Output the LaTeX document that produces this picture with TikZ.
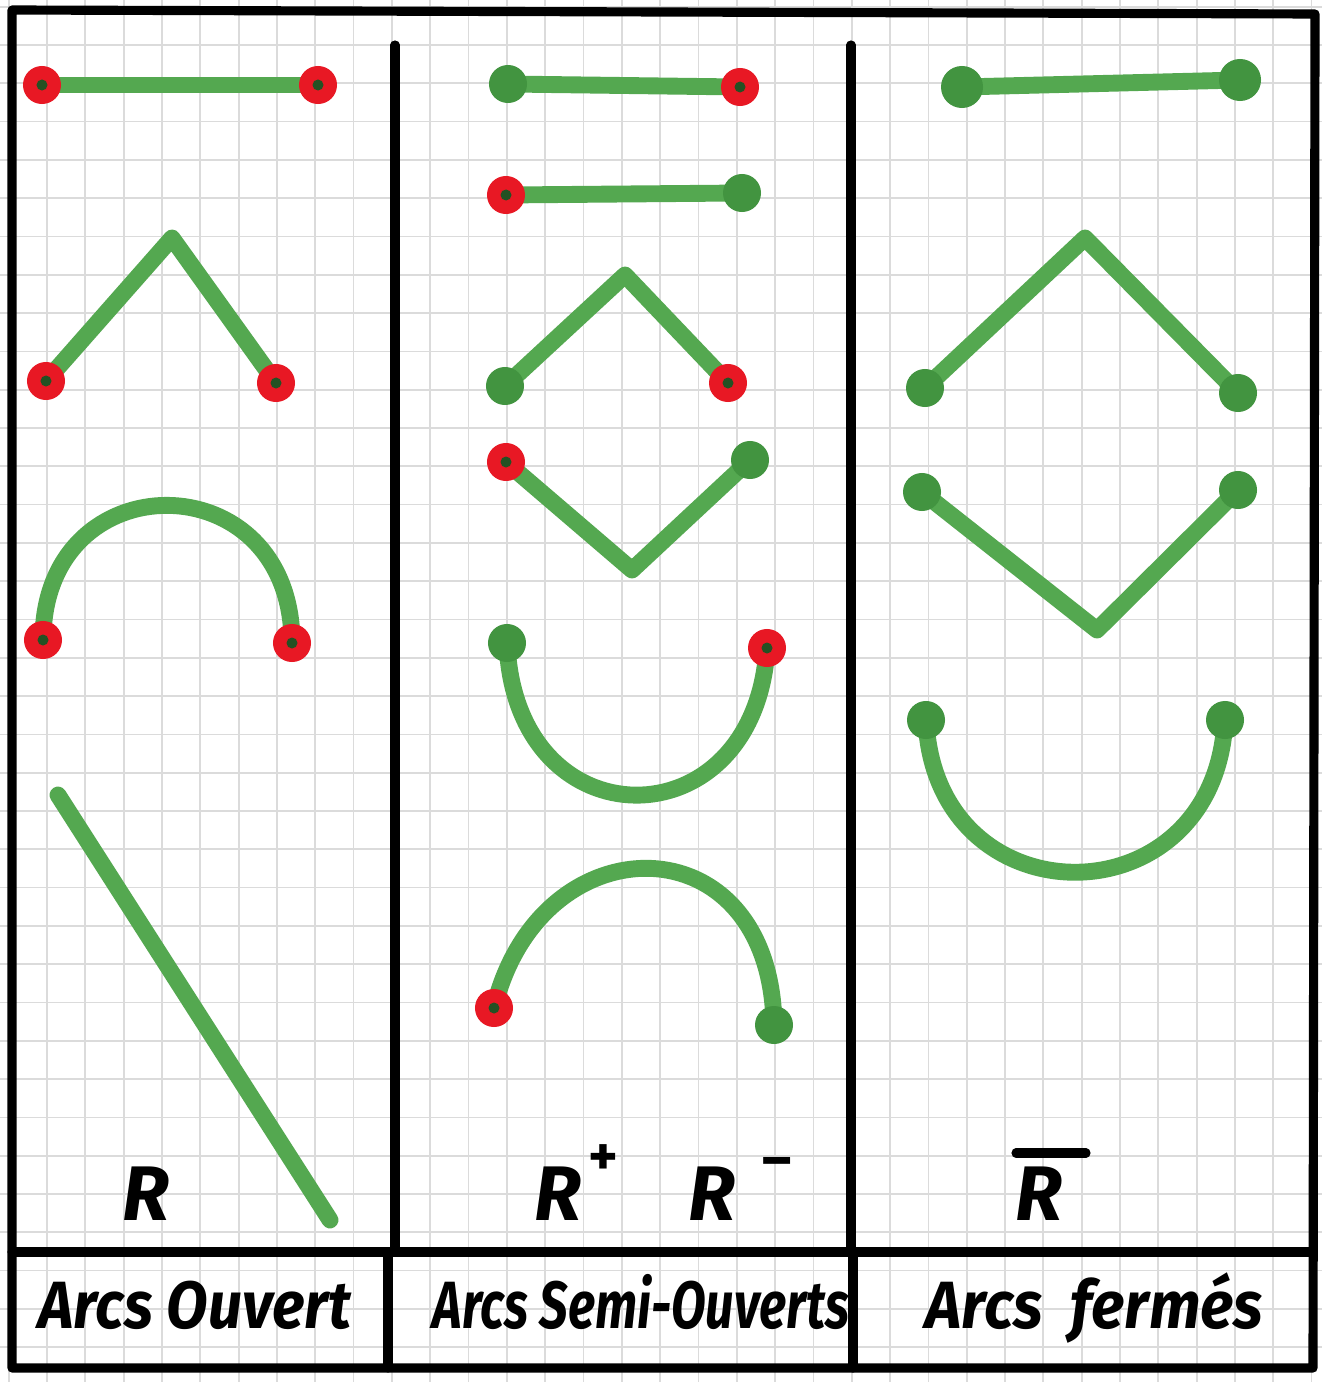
\documentclass[tikz,border=0pt]{standalone}
\usepackage{fontspec}
\usepackage{graphicx}
\newfontfamily\hand{Fira Sans}
\definecolor{mk}{RGB}{84,168,80}
\definecolor{mkd}{RGB}{66,148,64}
\definecolor{rd}{RGB}{232,24,36}
\begin{document}
\begin{tikzpicture}[x=0.01cm,y=-0.01cm,
  gridl/.style={draw=black!14,line width=0.5pt},
  frame/.style={line width=2.6pt,line cap=round,line join=round},
  arcl/.style={draw=mk,line width=4.8pt,line cap=round,line join=round},
  gdot/.style={circle,fill=mkd,inner sep=0pt,minimum size=0.38cm},
  rdot/.style={circle,fill=rd,inner sep=0pt,minimum size=0.38cm,
     path picture={\fill[black!45!mkd] (path picture bounding box.center) circle (0.055cm);}},
  lab/.style={font={\hand\fontsize{19}{22}\selectfont\bfseries\itshape},inner sep=0pt,anchor=base west},
  sym/.style={font={\hand\fontsize{22}{26}\selectfont\bfseries\itshape},inner sep=0pt,anchor=base west},
  sup/.style={font={\hand\fontsize{16}{18}\selectfont\bfseries},inner sep=0pt}]
\useasboundingbox (0,0) rectangle (1322,1382);
\fill[white] (0,0) rectangle (1322,1382);
% grid paper
\foreach \i in {0,...,34} {\draw[gridl] ({8.7+38.32*\i},0) -- ({8.7+38.32*\i},1382);}
\foreach \j in {0,...,36} {\draw[gridl] (0,{6.7+38.3*\j}) -- (1322,{6.7+38.3*\j});}
% frame
\draw[frame] (12,10) -- (1315,14) -- (1313,1368) -- (12,1368) -- cycle;
\draw[frame] (12,1252) -- (1313,1252);
\draw[frame] (395,45) -- (395,1252);
\draw[frame] (388,1252) -- (388,1368);
\draw[frame] (851,45) -- (851,1252);
\draw[frame] (853,1252) -- (853,1368);
% ---------- column 1 : open arcs
\coordinate (a1) at (42,85); \coordinate (b1) at (318,85);
\draw[arcl] (a1) -- (b1);
\coordinate (a2) at (46,381); \coordinate (m2) at (172,238); \coordinate (b2) at (276,383);
\draw[arcl] (a2) -- (m2) -- (b2);
\coordinate (a3) at (43,640); \coordinate (b3) at (292,643);
\draw[arcl] (a3) .. controls (43,460) and (292,460) .. (b3);
\coordinate (a4) at (58,795); \coordinate (b4) at (330,1220);
\draw[arcl] (a4) -- (b4);
\node[rdot] (da1) at (a1) {}; \node[rdot] (db1) at (b1) {};
\node[rdot] (da2) at (a2) {}; \node[rdot] (db2) at (b2) {};
\node[rdot] (da3) at (a3) {}; \node[rdot] (db3) at (b3) {};
% ---------- column 2 : half-open arcs
\coordinate (c1) at (508,84); \coordinate (e1) at (740,87);
\draw[arcl] (c1) -- (e1);
\coordinate (c2) at (506,195); \coordinate (e2) at (742,193);
\draw[arcl] (c2) -- (e2);
\coordinate (c3) at (505,386); \coordinate (n3) at (625,275); \coordinate (e3) at (728,383);
\draw[arcl] (c3) -- (n3) -- (e3);
\coordinate (c4) at (506,462); \coordinate (n4) at (632,570); \coordinate (e4) at (750,460);
\draw[arcl] (c4) -- (n4) -- (e4);
\coordinate (c5) at (507,643); \coordinate (e5) at (767,648);
\draw[arcl] (c5) .. controls (515,845) and (755,845) .. (e5);
\coordinate (c6) at (494,1008); \coordinate (e6) at (774,1025);
\draw[arcl] (c6) .. controls (540,819) and (771,819) .. (e6);
\node[gdot] (dc1) at (c1) {}; \node[rdot] (de1) at (e1) {};
\node[rdot] (dc2) at (c2) {}; \node[gdot] (de2) at (e2) {};
\node[gdot] (dc3) at (c3) {}; \node[rdot] (de3) at (e3) {};
\node[rdot] (dc4) at (c4) {}; \node[gdot] (de4) at (e4) {};
\node[gdot] (dc5) at (c5) {}; \node[rdot] (de5) at (e5) {};
\node[rdot] (dc6) at (c6) {}; \node[gdot] (de6) at (e6) {};
% ---------- column 3 : closed arcs
\coordinate (f1) at (962,87); \coordinate (g1) at (1240,80);
\draw[arcl] (f1) -- (g1);
\coordinate (f2) at (925,388); \coordinate (p2) at (1085,238); \coordinate (g2) at (1238,393);
\draw[arcl] (f2) -- (p2) -- (g2);
\coordinate (f3) at (922,492); \coordinate (p3) at (1097,630); \coordinate (g3) at (1238,490);
\draw[arcl] (f3) -- (p3) -- (g3);
\coordinate (f4) at (926,720); \coordinate (g4) at (1225,720);
\draw[arcl] (f4) .. controls (935,923) and (1215,923) .. (g4);
\node[gdot,minimum size=0.42cm] (df1) at (f1) {}; \node[gdot,minimum size=0.42cm] (dg1) at (g1) {};
\node[gdot] (df2) at (f2) {}; \node[gdot] (dg2) at (g2) {};
\node[gdot] (df3) at (f3) {}; \node[gdot] (dg3) at (g3) {};
\node[gdot] (df4) at (f4) {}; \node[gdot] (dg4) at (g4) {};
% ---------- symbols
\node[sym] (r1) at (122,1220) {R};
\node[sym] (r2) at (534,1220) {R};
\node[sup] (r2p) at (603,1160) {+};
\node[sym] (r3) at (688,1220) {R};
\node[sup] (r3m) at (777,1168) {\textendash};
\node[sym] (r4) at (1015,1220) {R};
\draw[line width=2.6pt,line cap=round] (1016,1153) -- (1086,1153);
% ---------- labels
\node[lab] (l1) at (38,1328) {\resizebox{3.12cm}{\height}{Arcs Ouvert}};
\node[lab] (l2) at (432,1328) {\resizebox{4.16cm}{\height}{Arcs Semi-Ouverts}};
\node[lab] (l3) at (925,1328) {\resizebox{3.37cm}{\height}{Arcs\ \ fermés}};
\end{tikzpicture}
\end{document}
